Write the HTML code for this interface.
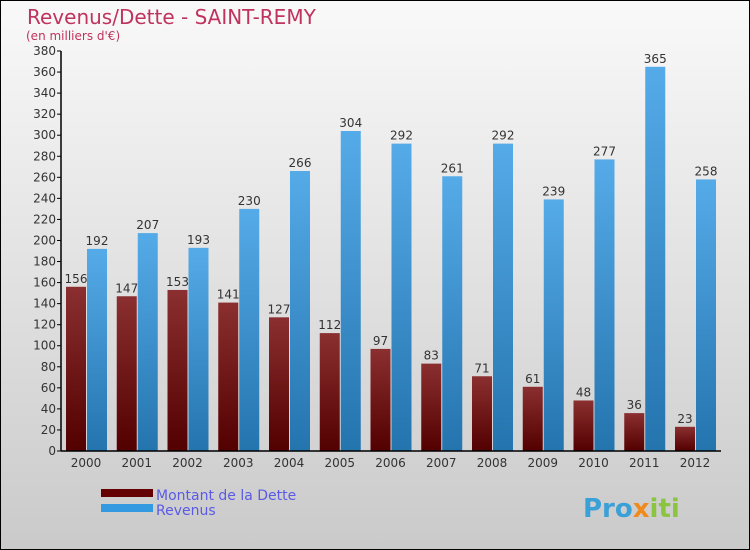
<!DOCTYPE html>
<html><head><meta charset="utf-8"><style>
body{margin:0;}
#wrap{position:relative;width:748px;height:548px;border:1px solid #000;background:linear-gradient(#f9f9f9,#cacaca);font-family:"DejaVu Sans","Liberation Sans",sans-serif;overflow:hidden}
</style></head><body>
<div id="wrap">
<svg id="chart" width="748" height="548">
<defs>
<linearGradient id="gd" x1="0" y1="0" x2="0" y2="1"><stop offset="0" stop-color="#8b2f30"/><stop offset="1" stop-color="#530000"/></linearGradient>
<linearGradient id="gr" x1="0" y1="0" x2="0" y2="1"><stop offset="0" stop-color="#55abe8"/><stop offset="1" stop-color="#2474ae"/></linearGradient>
</defs>
<text x="26" y="23" font-size="20" fill="#c0335e">Revenus/Dette - SAINT-REMY</text>
<text x="25" y="39" font-size="12" fill="#c0335e">(en milliers d'€)</text>
<g id="bars"></g>
<g id="axes"></g>
<rect x="100" y="488" width="52" height="8" fill="#650000"/>
<rect x="100" y="503" width="52" height="8" fill="#3399e0"/>
<text x="155" y="499" font-size="14" fill="#5a5ae6">Montant de la Dette</text>
<text x="155" y="514" font-size="14" fill="#5a5ae6">Revenus</text>
<text x="582" y="516" font-size="26" font-weight="bold" fill="#3aa0d8">Pro<tspan fill="#f08a1c">x</tspan><tspan fill="#8bc43f">iti</tspan></text>
</svg>
</div>
<script>
const years=["2000","2001","2002","2003","2004","2005","2006","2007","2008","2009","2010","2011","2012"];
const dette=[156,147,153,141,127,112,97,83,71,61,48,36,23];
const revenus=[192,207,193,230,266,304,292,261,292,239,277,365,258];
const yTicks=[0,20,40,60,80,100,120,140,160,180,200,220,240,260,280,300,320,340,360,380];
const NS="http://www.w3.org/2000/svg";
const x0=60,cw=50.75,y0=450,ymax=380,ph=400;
const y=v=>y0-v/ymax*ph;
const bars=document.getElementById('bars'),axes=document.getElementById('axes');
function mk(tag,attrs,parent){const e=document.createElementNS(NS,tag);for(const k in attrs)e.setAttribute(k,attrs[k]);parent.appendChild(e);return e;}
years.forEach((yr,i)=>{
 const bx=x0+5+i*cw;
 let r=mk('rect',{x:bx,y:y(dette[i]),width:20,height:y0-y(dette[i]),fill:'url(#gd)'},bars);
 
 
 let r2=mk('rect',{x:bx+21,y:y(revenus[i]),width:20,height:y0-y(revenus[i]),fill:'url(#gr)'},bars);
 
 
 let t=mk('text',{x:bx+10,y:y(dette[i])-4,'font-size':12,fill:'#333','text-anchor':'middle'},bars);t.textContent=dette[i];
 
 
 let t2=mk('text',{x:bx+31,y:y(revenus[i])-4,'font-size':12,fill:'#333','text-anchor':'middle'},bars);t2.textContent=revenus[i];
 
 
 let xl=mk('text',{x:bx+20,y:466,'font-size':12,fill:'#333','text-anchor':'middle'},axes);xl.textContent=yr;
 
 
});
yTicks.forEach(v=>{
 mk('line',{x1:56,x2:60,y1:y(v),y2:y(v),stroke:'#000'},axes);
 let t=mk('text',{x:55,y:y(v)+4,'font-size':12,fill:'#333','text-anchor':'end'},axes);t.textContent=v;
 
 
});
let ya=mk('line',{x1:60,x2:60,y1:50,y2:450,stroke:'#000','stroke-width':1.5},axes);


let xa=mk('line',{x1:60,x2:720,y1:450,y2:450,stroke:'#000','stroke-width':1.5},axes);


</script>
</body></html>
